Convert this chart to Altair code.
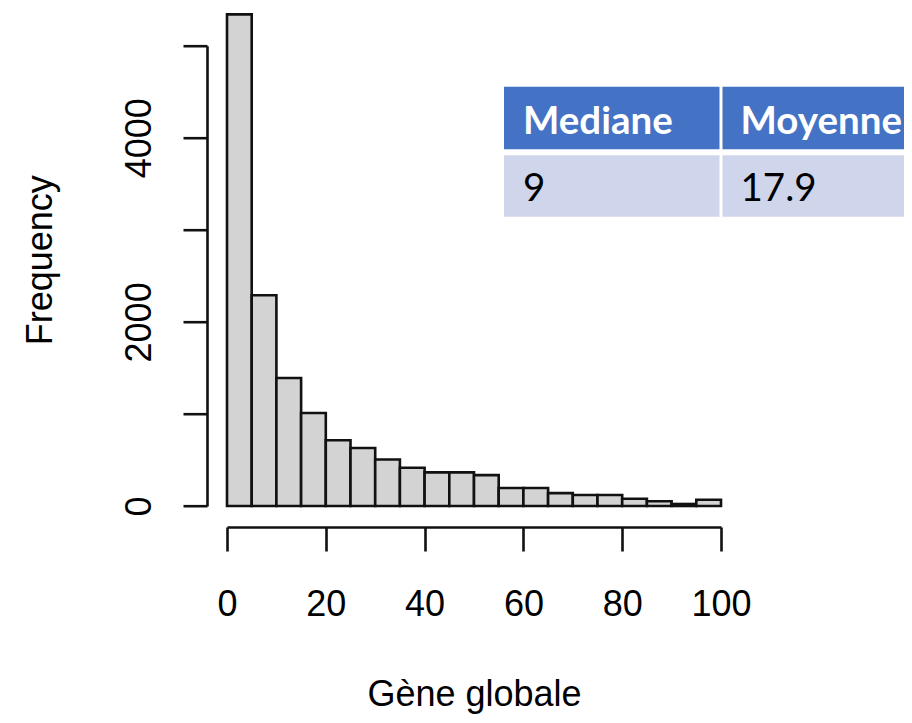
import altair as alt
import pandas as pd

# ---- data ----
bin_start = list(range(0, 100, 5))
bin_width = 5
counts = [5340, 2290, 1390, 1010, 715, 630, 505, 415, 365, 365,
          335, 195, 195, 140, 120, 120, 78, 52, 22, 68]
x_ticks = [0, 20, 40, 60, 80, 100]
y_ticks = [0, 1000, 2000, 3000, 4000, 5000]
table_headers = ["Mediane", "Moyenne"]
table_values = ["9", "17.9"]

df = pd.DataFrame({
    "start": bin_start,
    "end": [s + bin_width for s in bin_start],
    "count": counts,
    "base": [0] * len(bin_start),
})

W, H = 494, 460.3
FONT = "Liberation Sans"

bars = alt.Chart(df).mark_rect(
    fill="#d3d3d3", stroke="#111111", strokeWidth=2.6
).encode(
    x=alt.X(
        "start:Q",
        scale=alt.Scale(domain=[0, 100], nice=False, zero=False),
        axis=alt.Axis(
            values=x_ticks, title="Gène globale", offset=21, grid=False,
            tickSize=24, tickWidth=2.6, tickColor="#111111",
            domainWidth=2.6, domainColor="#111111",
            labelFontSize=36, labelFont=FONT, labelColor="#000000",
            labelBaseline="top", labelPadding=36, labelFlush=False,
            labelOverlap=False,
            titleFontSize=36, titleFont=FONT, titleFontWeight="normal",
            titleColor="#000000", titleBaseline="alphabetic", titleY=178,
        ),
    ),
    x2="end:Q",
    y=alt.Y(
        "count:Q",
        scale=alt.Scale(domain=[0, 5000], nice=False),
        axis=alt.Axis(
            values=y_ticks, title="Frequency", offset=20, grid=False,
            format="d",
            labelExpr="datum.value % 2000 == 0 ? datum.label : ''",
            tickSize=24, tickWidth=2.6, tickColor="#111111",
            domainWidth=2.6, domainColor="#111111",
            labelFontSize=36, labelFont=FONT, labelColor="#000000",
            labelAngle=270, labelAlign="center", labelBaseline="alphabetic",
            labelPadding=33, labelFlush=False, labelOverlap=False,
            titleFontSize=36, titleFont=FONT, titleFontWeight="normal",
            titleColor="#000000", titleBaseline="alphabetic",
            titleX=-156, titleY=214,
        ),
    ),
    y2="base:Q",
)

# ---- summary table (annotation, placed in pixels) ----
tab = pd.DataFrame({
    "col": [0, 1],
    "header": table_headers,
    "value": table_values,
})

cell_x1 = "datum.col == 0 ? 277 : 495.5"
cell_x2 = "datum.col == 0 ? 492.5 : 700"
text_x = "datum.col == 0 ? 296 : 513.5"

base_tab = alt.Chart(tab).transform_calculate(
    x1=cell_x1, x2=cell_x2, tx=text_x
)

header_rect = base_tab.mark_rect(fill="#4472C4").encode(
    x=alt.X("x1:Q", scale=None, axis=None),
    x2="x2:Q",
    y=alt.value(41),
    y2=alt.value(103.5),
)
row_rect = base_tab.mark_rect(fill="#CFD5EA").encode(
    x=alt.X("x1:Q", scale=None, axis=None),
    x2="x2:Q",
    y=alt.value(109.5),
    y2=alt.value(171),
)
header_text = base_tab.mark_text(
    font="Lato", fontSize=38.5, fontWeight="bold", color="white",
    align="left", baseline="alphabetic"
).encode(
    x=alt.X("tx:Q", scale=None, axis=None),
    y=alt.value(88),
    text="header:N",
)
value_text = base_tab.mark_text(
    font="Lato", fontSize=38.5, color="black",
    align="left", baseline="alphabetic"
).encode(
    x=alt.X("tx:Q", scale=None, axis=None),
    y=alt.value(155),
    text="value:N",
)

table = alt.layer(header_rect, row_rect, header_text, value_text)

chart = alt.layer(bars, table).resolve_scale(
    x="independent", y="independent"
).properties(
    width=W, height=H,
    autosize=alt.AutoSizeParams(type="none"),
    padding={"left": 219, "top": 37.7, "right": 183, "bottom": 209},
    background="white",
).configure_view(strokeWidth=0)

chart.save("out.html", embed_options={"renderer": "svg", "actions": False})
